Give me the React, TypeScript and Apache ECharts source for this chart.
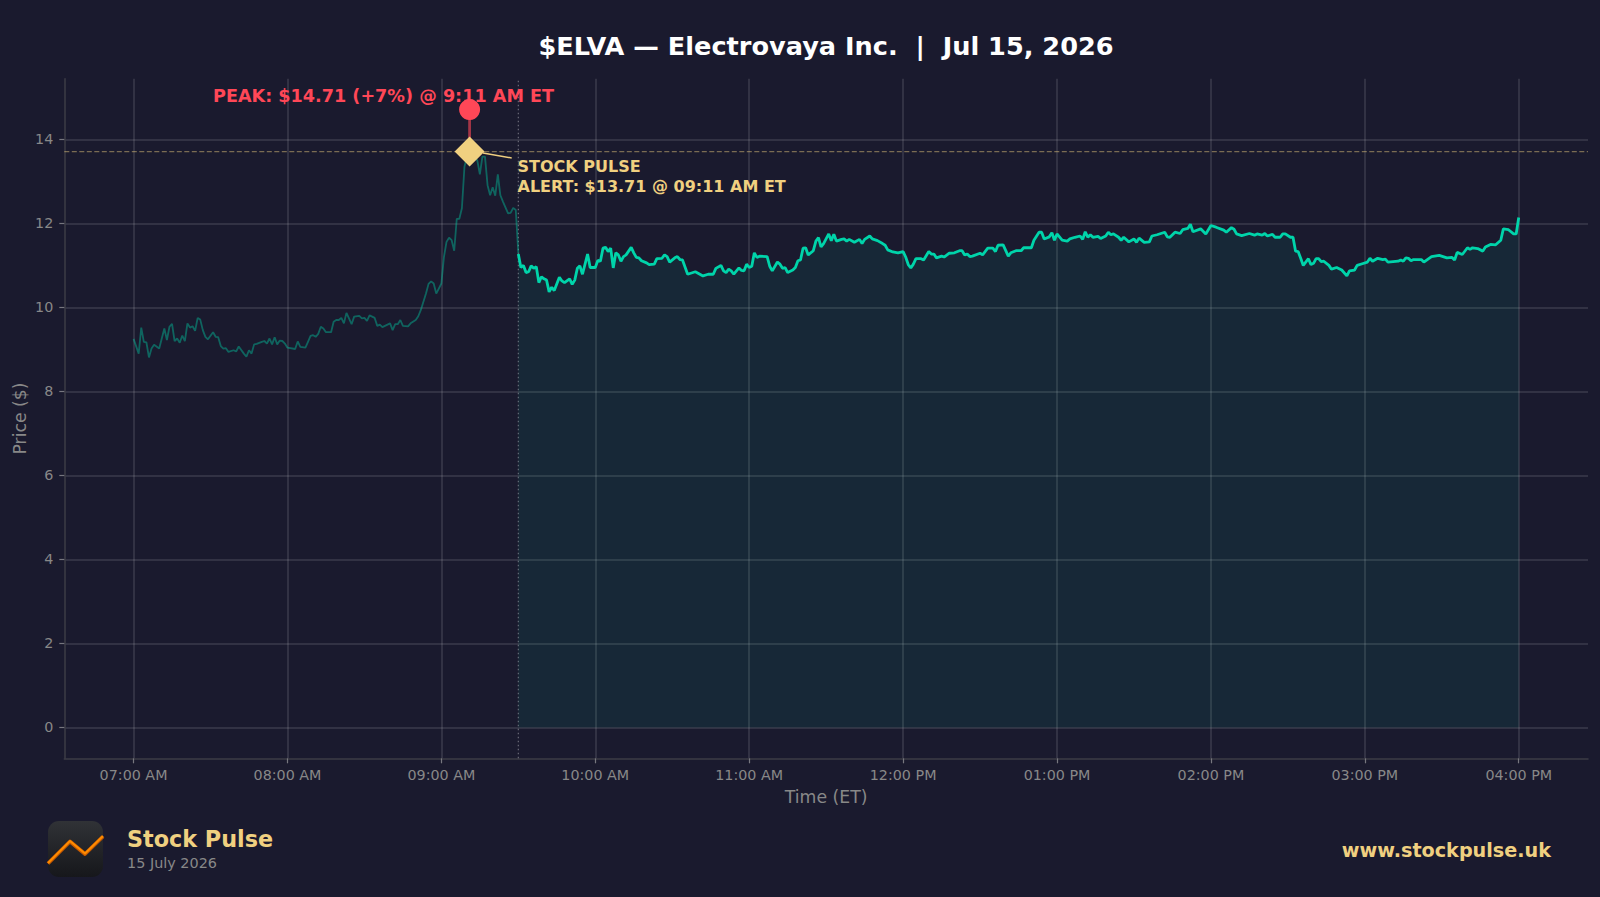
import React, { useEffect, useRef } from 'react';
import * as echarts from 'echarts';

// minutes after 07:00 AM ET
const preMinutes = [0, 2, 3, 4, 5, 6, 7, 8, 10, 12, 13, 14, 15, 16, 17, 18, 19, 20, 21, 22, 23, 24, 25, 26, 27, 28, 29, 31, 32, 33, 34, 35, 36, 37, 39, 40, 41, 43, 44, 45, 46, 47, 48, 50, 51, 52, 53, 54, 55, 56, 57, 58, 59, 60, 63, 64, 65, 67, 68, 69, 70, 71, 72, 73, 74, 75, 77, 78, 79, 80, 81, 82, 83, 85, 86, 88, 89, 90, 91, 92, 94, 95, 96, 97, 100, 101, 102, 103, 104, 105, 107, 108, 110, 111, 112, 114, 115, 116, 117, 118, 120, 121, 122, 123, 124, 125, 126, 127, 128, 129, 130, 131, 132, 133, 134, 135, 136, 137, 138, 139, 140, 141, 142, 143, 144, 146, 147, 148, 149, 150];
const preValues = [9.25, 8.9, 9.52, 9.18, 9.17, 8.81, 9.02, 9.11, 9.02, 9.5, 9.22, 9.54, 9.61, 9.2, 9.26, 9.16, 9.33, 9.2, 9.62, 9.52, 9.55, 9.44, 9.75, 9.71, 9.46, 9.3, 9.24, 9.41, 9.3, 9.29, 9.08, 9.02, 9.03, 8.94, 8.98, 8.95, 9.07, 8.9, 8.83, 8.98, 8.9, 9.12, 9.13, 9.18, 9.2, 9.14, 9.26, 9.12, 9.29, 9.12, 9.21, 9.2, 9.14, 9.04, 9.01, 9.19, 9.06, 9.04, 9.18, 9.32, 9.34, 9.3, 9.37, 9.54, 9.5, 9.41, 9.41, 9.66, 9.7, 9.7, 9.75, 9.62, 9.87, 9.6, 9.78, 9.8, 9.74, 9.75, 9.68, 9.81, 9.75, 9.56, 9.59, 9.53, 9.62, 9.46, 9.6, 9.6, 9.7, 9.56, 9.55, 9.62, 9.7, 9.79, 9.94, 10.33, 10.56, 10.62, 10.57, 10.33, 10.57, 11.2, 11.56, 11.66, 11.6, 11.35, 12.11, 12.11, 12.36, 13.35, 13.6, 13.71, 13.6, 13.59, 13.5, 13.17, 13.59, 13.59, 12.91, 12.67, 12.86, 12.66, 13.17, 12.67, 12.52, 12.24, 12.25, 12.37, 12.32, 11.29];

const regMinutes = [150, 151, 152, 153, 154, 155, 156, 157, 158, 159, 160, 161, 162, 163, 164, 166, 167, 168, 170, 171, 172, 173, 174, 175, 177, 178, 180, 181, 182, 183, 184, 185, 186, 187, 188, 189, 190, 191, 192, 194, 195, 196, 197, 198, 200, 201, 203, 204, 206, 207, 208, 209, 211, 212, 213, 214, 216, 219, 222, 224, 226, 227, 229, 230, 231, 232, 233, 234, 236, 237, 238, 239, 240, 241, 242, 243, 244, 247, 248, 249, 251, 252, 253, 254, 255, 257, 258, 259, 260, 261, 262, 263, 265, 266, 267, 268, 269, 271, 272, 273, 274, 276, 277, 278, 279, 281, 283, 284, 285, 287, 288, 290, 292, 293, 294, 296, 298, 300, 301, 302, 303, 304, 305, 307, 308, 310, 311, 312, 313, 315, 316, 318, 320, 322, 323, 324, 325, 326, 327, 330, 331, 333, 335, 336, 337, 339, 341, 342, 344, 346, 347, 350, 351, 353, 354, 355, 357, 358, 359, 360, 362, 364, 365, 367, 369, 370, 371, 372, 373, 374, 376, 377, 379, 380, 381, 382, 384, 385, 386, 388, 390, 391, 392, 394, 396, 397, 399, 402, 403, 404, 406, 408, 409, 411, 412, 413, 416, 418, 420, 422, 425, 426, 428, 429, 430, 432, 435, 437, 438, 440, 441, 442, 444, 445, 447, 448, 449, 451, 452, 453, 454, 455, 456, 458, 459, 460, 461, 462, 463, 464, 466, 467, 469, 471, 473, 474, 476, 477, 479, 481, 482, 483, 485, 487, 488, 489, 493, 494, 495, 496, 497, 498, 499, 502, 503, 506, 509, 512, 514, 515, 516, 518, 520, 521, 522, 524, 526, 527, 529, 531, 533, 534, 536, 538, 539, 540];
const regValues = [11.27, 10.95, 11.0, 10.83, 10.85, 10.99, 10.93, 10.97, 10.59, 10.73, 10.68, 10.65, 10.37, 10.48, 10.4, 10.72, 10.63, 10.59, 10.68, 10.55, 10.65, 10.93, 10.99, 10.79, 11.27, 10.95, 10.95, 11.12, 11.1, 11.41, 11.43, 11.33, 11.41, 10.94, 11.3, 11.25, 11.1, 11.21, 11.25, 11.43, 11.3, 11.19, 11.18, 11.11, 11.06, 11.02, 11.03, 11.16, 11.17, 11.25, 11.21, 11.08, 11.18, 11.21, 11.14, 11.13, 10.79, 10.85, 10.75, 10.79, 10.79, 10.93, 11.0, 10.87, 10.83, 10.91, 10.87, 10.79, 10.94, 10.88, 10.87, 11.03, 10.95, 10.98, 11.3, 11.19, 11.22, 11.21, 10.98, 10.87, 11.08, 11.03, 10.93, 10.95, 10.83, 10.89, 10.95, 11.11, 11.13, 11.41, 11.42, 11.25, 11.35, 11.58, 11.66, 11.44, 11.52, 11.75, 11.59, 11.74, 11.58, 11.62, 11.63, 11.58, 11.62, 11.55, 11.62, 11.52, 11.62, 11.7, 11.63, 11.59, 11.52, 11.48, 11.37, 11.32, 11.3, 11.33, 11.2, 11.02, 10.94, 11.03, 11.16, 11.16, 11.13, 11.33, 11.27, 11.27, 11.18, 11.22, 11.2, 11.29, 11.3, 11.35, 11.35, 11.25, 11.27, 11.21, 11.22, 11.29, 11.25, 11.41, 11.41, 11.33, 11.48, 11.49, 11.22, 11.3, 11.35, 11.35, 11.42, 11.42, 11.6, 11.79, 11.79, 11.63, 11.68, 11.78, 11.6, 11.75, 11.6, 11.58, 11.63, 11.67, 11.7, 11.62, 11.8, 11.67, 11.73, 11.67, 11.69, 11.64, 11.7, 11.79, 11.73, 11.75, 11.67, 11.6, 11.67, 11.56, 11.63, 11.55, 11.65, 11.55, 11.56, 11.7, 11.73, 11.79, 11.68, 11.67, 11.79, 11.76, 11.85, 11.88, 11.98, 11.8, 11.87, 11.75, 11.95, 11.91, 11.84, 11.79, 11.9, 11.86, 11.75, 11.71, 11.76, 11.72, 11.75, 11.72, 11.76, 11.7, 11.74, 11.67, 11.67, 11.75, 11.75, 11.67, 11.67, 11.34, 11.33, 11.17, 11.0, 11.16, 11.02, 11.05, 11.16, 11.16, 11.09, 11.1, 11.0, 10.91, 10.95, 10.89, 10.75, 10.87, 10.89, 11.0, 11.04, 11.08, 11.17, 11.1, 11.17, 11.14, 11.15, 11.08, 11.1, 11.13, 11.1, 11.18, 11.17, 11.11, 11.14, 11.14, 11.08, 11.21, 11.24, 11.18, 11.19, 11.13, 11.31, 11.26, 11.42, 11.38, 11.42, 11.4, 11.34, 11.44, 11.5, 11.49, 11.6, 11.87, 11.85, 11.75, 11.75, 12.14];

const xTicks = [0, 60, 120, 180, 240, 300, 360, 420, 480, 540];
const xTickLabels = ['07:00 AM', '08:00 AM', '09:00 AM', '10:00 AM', '11:00 AM', '12:00 PM', '01:00 PM', '02:00 PM', '03:00 PM', '04:00 PM'];
const yTicks = [0, 2, 4, 6, 8, 10, 12, 14];

const xMin = -27;
const xMax = 567;
const yMin = -0.7355;
const yMax = 15.4455;

const peakMinute = 131;
const peakPrice = 14.71;
const alertPrice = 13.71;
const openMinute = 150;

const FONT = '"DejaVu Sans", sans-serif';
const GOLD = '#f0d080';
const RED = '#ff4757';
const TEAL = '#00d4aa';
const BG = '#1a1a2e';
const GRID = 'rgba(255,255,255,0.14)';
const SPINE = '#3d3c46';
const TICK = '#77777f';
const LABEL = '#888888';

function txt(text: string, x: number, y: number, size: number, fill: string, bold = false, align = 'left') {
  return {
    type: 'text',
    z: 20,
    style: { text, x, y, fill, fontSize: size, fontWeight: bold ? 'bold' : 'normal', fontFamily: FONT, align, verticalAlign: 'middle' },
  };
}

function App() {
  const chartRef = useRef<HTMLDivElement>(null);

  useEffect(() => {
    document.body.style.margin = '0';
    document.body.style.background = BG;
    if (!chartRef.current) return undefined;
    const chart = echarts.init(chartRef.current, null, { renderer: 'svg' });
    const options = {
      animation: false,
      backgroundColor: BG,
      textStyle: { fontFamily: FONT },
      grid: { left: 64.3, right: 12, top: 78.7, bottom: 138.7, outerBoundsMode: 'none' },
      xAxis: {
        type: 'value',
        min: xMin,
        max: xMax,
        name: 'Time (ET)',
        nameLocation: 'middle',
        nameGap: 30.5,
        nameTextStyle: { color: LABEL, fontSize: 17.3, fontFamily: FONT },
        axisLine: { show: true, onZero: false, lineStyle: { color: SPINE, width: 1.5 } },
        axisTick: { show: true, length: 5, customValues: xTicks, lineStyle: { color: TICK, width: 1.2 } },
        axisLabel: {
          customValues: xTicks,
          color: LABEL,
          fontSize: 14.3,
          margin: 10,
          fontFamily: FONT,
          formatter: (v: number) => xTickLabels[xTicks.indexOf(v)],
        },
        splitLine: { show: true, lineStyle: { color: GRID, width: 1.5 } },
      },
      yAxis: {
        type: 'value',
        min: yMin,
        max: yMax,
        name: 'Price ($)',
        nameLocation: 'middle',
        nameGap: 36,
        nameMoveOverlap: false,
        nameTextStyle: { color: LABEL, fontSize: 17.3, fontFamily: FONT },
        axisLine: { show: true, onZero: false, lineStyle: { color: SPINE, width: 1.5 } },
        axisTick: { show: true, length: 5, customValues: yTicks, lineStyle: { color: TICK, width: 1.2 } },
        axisLabel: { customValues: yTicks, color: LABEL, fontSize: 14.3, margin: 11, fontFamily: FONT },
        splitLine: { show: true, lineStyle: { color: GRID, width: 1.5 } },
      },
      series: [
        {
          type: 'line',
          name: 'Pre-market',
          data: preMinutes.map((m, i) => [m, preValues[i]]),
          symbol: 'none',
          lineStyle: { color: TEAL, opacity: 0.4, width: 1.8 },
          z: 3,
        },
        {
          type: 'line',
          name: 'Regular',
          data: regMinutes.map((m, i) => [m, regValues[i]]),
          symbol: 'none',
          lineStyle: { color: TEAL, width: 2.8 },
          areaStyle: { color: 'rgba(0,212,170,0.08)', opacity: 1 },
          z: 4,
        },
        {
          type: 'line',
          name: 'Alert level',
          data: [[xMin, alertPrice], [xMax, alertPrice]],
          symbol: 'none',
          lineStyle: { color: GOLD, opacity: 0.45, width: 1.3, type: [5, 2.5] },
          z: 2,
        },
        {
          type: 'line',
          name: 'Open',
          data: [[openMinute, yMin], [openMinute, yMax]],
          symbol: 'none',
          lineStyle: { color: '#ffffff', opacity: 0.35, width: 1.2, type: [1.5, 2.5] },
          z: 2,
        },
        {
          type: 'line',
          name: 'Peak stem',
          data: [[peakMinute, peakPrice], [peakMinute, alertPrice]],
          symbol: 'none',
          lineStyle: { color: RED, opacity: 0.6, width: 2.8 },
          z: 5,
        },
        {
          type: 'scatter',
          name: 'Peak',
          data: [[peakMinute, peakPrice]],
          symbol: 'circle',
          symbolSize: 21,
          itemStyle: { color: RED, opacity: 1 },
          z: 6,
        },
        {
          type: 'scatter',
          name: 'Alert',
          data: [[peakMinute, alertPrice]],
          symbol: 'diamond',
          symbolSize: 30,
          itemStyle: { color: GOLD, opacity: 1 },
          z: 7,
        },
      ],
      graphic: [
        txt('$ELVA — Electrovaya Inc.  |  Jul 15, 2026', 826, 45.5, 25.6, '#ffffff', true, 'center'),
        txt('PEAK: $14.71 (+7%) @ 9:11 AM ET', 213, 95.5, 17.6, RED, true),
        txt('STOCK PULSE', 517.5, 166.5, 16, GOLD, true),
        txt('ALERT: $13.71 @ 09:11 AM ET', 517.5, 186.5, 16, GOLD, true),
        { type: 'line', z: 8, shape: { x1: 483, y1: 153, x2: 511.7, y2: 158 }, style: { stroke: GOLD, lineWidth: 1.5 } },
        // logo
        {
          type: 'rect',
          z: 10,
          shape: { x: 48, y: 821, width: 55, height: 56, r: 11 },
          style: {
            fill: { type: 'linear', x: 0, y: 0, x2: 0, y2: 1, colorStops: [{ offset: 0, color: '#303236' }, { offset: 1, color: '#16171b' }] },
          },
        },
        {
          type: 'polyline',
          z: 11,
          shape: { points: [[48, 863.5], [70, 841.5], [85, 854], [103, 836.5]] },
          style: { stroke: '#c85a00', lineWidth: 3.8, fill: 'none', lineJoin: 'round' },
        },
        {
          type: 'polyline',
          z: 12,
          shape: { points: [[48, 863], [70, 841], [85, 853.5], [103, 836]] },
          style: { stroke: '#ff8c00', lineWidth: 2, fill: 'none', lineJoin: 'round' },
        },
        txt('Stock Pulse', 127, 838.5, 22.3, GOLD, true),
        txt('15 July 2026', 127, 862.5, 14.4, LABEL),
        txt('www.stockpulse.uk', 1551, 850, 19.2, GOLD, true, 'right'),
      ],
    };
    chart.setOption(options as any);
    return () => {
      chart.dispose();
    };
  }, []);

  return <div ref={chartRef} style={{ width: 1600, height: 897 }} />;
}

export default App;
